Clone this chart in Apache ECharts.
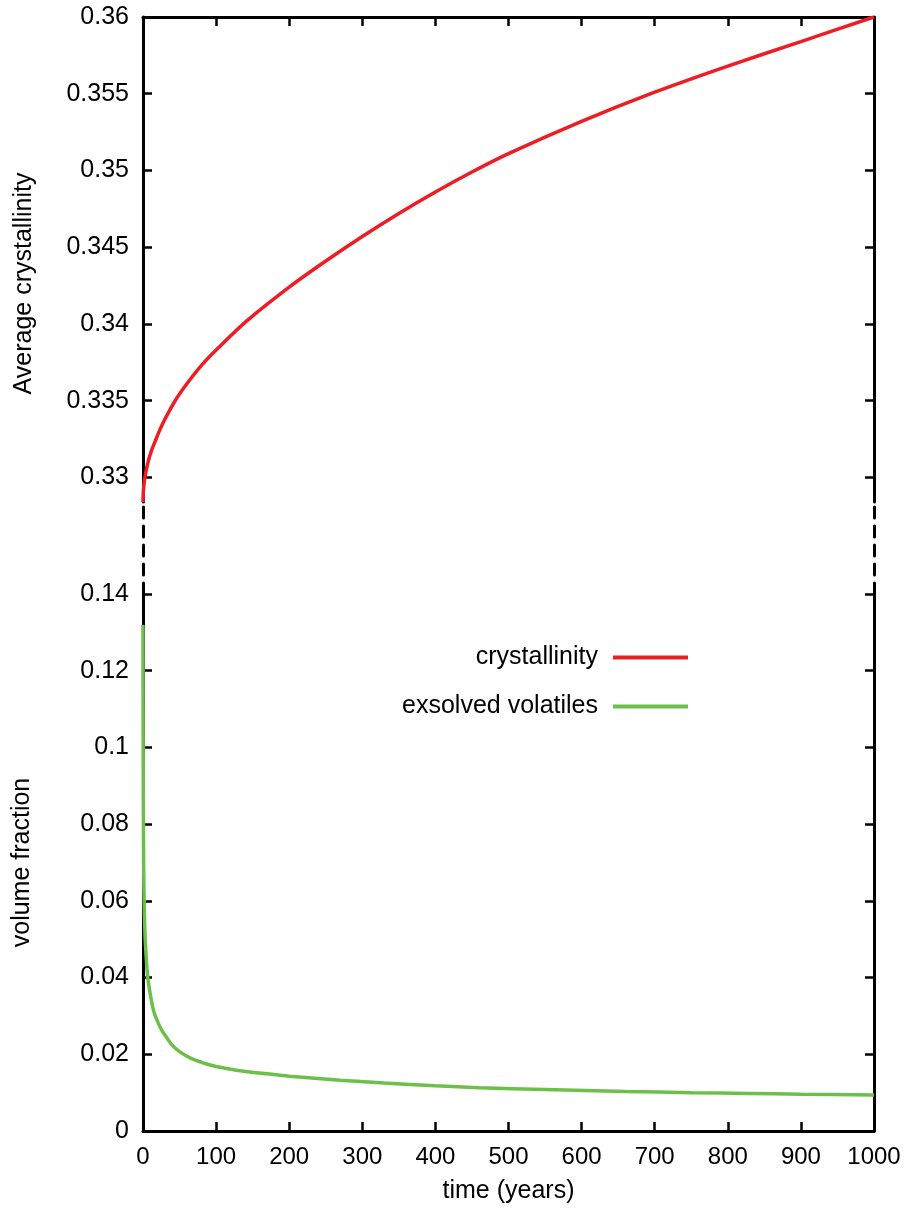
<!DOCTYPE html>
<html>
<head>
<meta charset="utf-8">
<script src="https://cdn.jsdelivr.net/npm/echarts@6/dist/echarts.min.js"></script>
<style>html,body{margin:0;padding:0;background:#fff}#c{width:907px;height:1209px}</style>
</head>
<body>
<div id="c"></div>
<script>
// ---- data ----
const crystTime = [0, 0.5, 1, 2, 3, 5, 8, 12, 17, 23, 30, 44, 60, 80, 100, 142, 200, 250, 300, 350, 400, 450, 500, 600, 700, 800, 900, 1000];
const crystValue = [0.3284, 0.3291, 0.3294, 0.3298, 0.3301, 0.3306, 0.3312, 0.3318, 0.3324, 0.3331, 0.3338, 0.3350, 0.3361, 0.3373, 0.3383, 0.3402, 0.3424, 0.3441, 0.3457, 0.3472, 0.3486, 0.3499, 0.3511, 0.3532, 0.3551, 0.3568, 0.3584, 0.3600];
const volTime = [0, 0.3, 0.7, 1.2, 2, 3, 4.5, 6, 8, 11, 15, 20, 25, 30, 40, 50, 65, 85, 100, 130, 170, 200, 270, 330, 400, 460, 550, 660, 750, 830, 900, 1000];
const volValue = [0.1319, 0.095, 0.075, 0.064, 0.056, 0.050, 0.045, 0.041, 0.038, 0.0345, 0.031, 0.0285, 0.0265, 0.025, 0.0224, 0.0207, 0.019, 0.0176, 0.0168, 0.0158, 0.0149, 0.0143, 0.0132, 0.0125, 0.0118, 0.0113, 0.0108, 0.0103, 0.0100, 0.0098, 0.0096, 0.0094];
const topTicks = [0.33, 0.335, 0.34, 0.345, 0.35, 0.355, 0.36];
const seriesNames = ['crystallinity', 'exsolved volatiles'];

const FONT = '"Liberation Sans", Arial, Helvetica, sans-serif';
const BLACK = '#000';
const axisLine = { show: true, lineStyle: { color: BLACK, width: 3 } };
const tick = { show: true, inside: true, length: 9, lineStyle: { color: BLACK, width: 2.5 } };
const ylbl = { color: BLACK, fontSize: 25, fontFamily: FONT, margin: 14 };
const xlbl = { color: BLACK, fontSize: 24, fontFamily: FONT, margin: 14, formatter: v => String(v) };

const chart = echarts.init(document.getElementById('c'), null, { renderer: 'canvas' });
chart.setOption({
  backgroundColor: '#fff',
  animation: false,
  grid: [
    { left: 143, right: 33, top: 17, height: 485 },
    { left: 143, right: 33, top: 502, height: 92 },
    { left: 143, right: 33, top: 594, height: 537 }
  ],
  legend: {
    orient: 'vertical',
    right: 214,
    top: 640,
    align: 'right',
    itemWidth: 75,
    itemHeight: 4,
    itemGap: 24,
    icon: 'rect',
    data: seriesNames,
    textStyle: { color: BLACK, fontSize: 25, fontFamily: FONT, padding: [0, 10, 0, 0] }
  },
  xAxis: [
    { gridIndex: 0, type: 'value', position: 'top', min: 0, max: 1000, interval: 100,
      axisLine: axisLine, axisTick: tick, axisLabel: { show: false }, splitLine: { show: false } },
    { gridIndex: 1, type: 'value', min: 0, max: 1000, show: false },
    { gridIndex: 2, type: 'value', position: 'bottom', min: 0, max: 1000, interval: 100,
      axisLine: axisLine, axisTick: tick, axisLabel: xlbl, splitLine: { show: false },
      name: 'time (years)', nameLocation: 'middle', nameGap: 48,
      nameTextStyle: { color: BLACK, fontSize: 25, fontFamily: FONT } }
  ],
  yAxis: [
    { gridIndex: 0, type: 'value', position: 'left', min: 0.3284, max: 0.36,
      axisLine: axisLine,
      axisTick: Object.assign({ customValues: topTicks }, tick),
      axisLabel: Object.assign({ customValues: topTicks, formatter: v => String(v) }, ylbl),
      splitLine: { show: false },
      name: 'Average crystallinity', nameLocation: 'middle', nameGap: 106,
      nameTextStyle: { color: BLACK, fontSize: 25, fontFamily: FONT, padding: [0, 48, 0, 0] } },
    { gridIndex: 0, type: 'value', position: 'right', min: 0.3284, max: 0.36,
      axisLine: axisLine,
      axisTick: Object.assign({ customValues: topTicks }, tick),
      axisLabel: { show: false }, splitLine: { show: false } },
    { gridIndex: 1, type: 'value', position: 'left', min: 0, max: 1,
      axisLine: { show: true, lineStyle: { color: BLACK, width: 3, type: [11, 8] } },
      axisTick: { show: false }, axisLabel: { show: false }, splitLine: { show: false } },
    { gridIndex: 1, type: 'value', position: 'right', min: 0, max: 1,
      axisLine: { show: true, lineStyle: { color: BLACK, width: 3, type: [11, 8] } },
      axisTick: { show: false }, axisLabel: { show: false }, splitLine: { show: false } },
    { gridIndex: 2, type: 'value', position: 'left', min: 0, max: 0.14, interval: 0.02,
      axisLine: axisLine, axisTick: tick, axisLabel: ylbl,
      splitLine: { show: false },
      name: 'volume fraction', nameLocation: 'middle', nameGap: 108,
      nameTextStyle: { color: BLACK, fontSize: 25, fontFamily: FONT } },
    { gridIndex: 2, type: 'value', position: 'right', min: 0, max: 0.14, interval: 0.02,
      axisLine: axisLine, axisTick: tick, axisLabel: { show: false }, splitLine: { show: false } }
  ],
  series: [
    { name: seriesNames[0], type: 'line', xAxisIndex: 0, yAxisIndex: 0,
      data: crystTime.map((t, i) => [t, crystValue[i]]),
      showSymbol: false, smooth: 0.3, clip: true,
      lineStyle: { color: '#ee1d25', width: 3.5 }, itemStyle: { color: '#ee1d25' } },
    { name: seriesNames[1], type: 'line', xAxisIndex: 2, yAxisIndex: 4,
      data: volTime.map((t, i) => [t, volValue[i]]),
      showSymbol: false, smooth: 0.3, clip: true,
      lineStyle: { color: '#6cc04a', width: 3.5 }, itemStyle: { color: '#6cc04a' } }
  ]
});
</script>
</body>
</html>
